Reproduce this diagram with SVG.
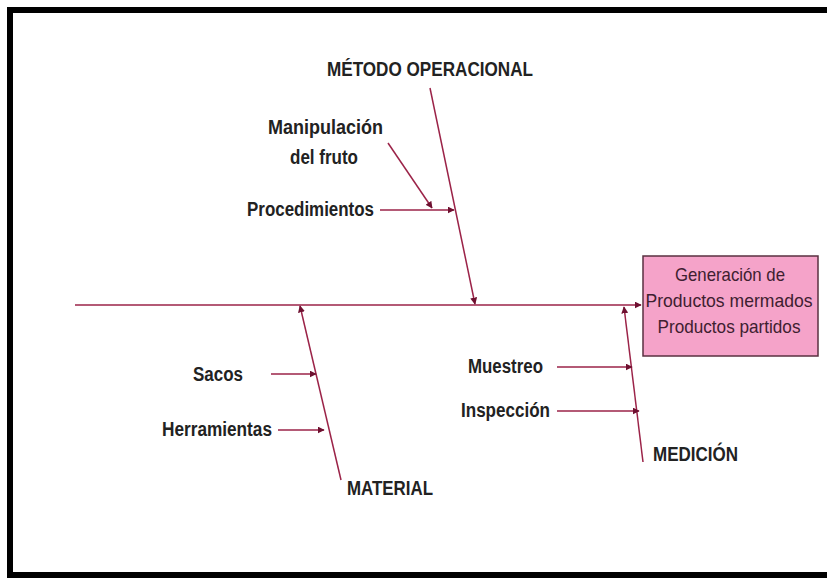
<svg xmlns="http://www.w3.org/2000/svg" width="827" height="579" viewBox="0 0 827 579">
<defs>
<marker id="ah" viewBox="0 0 10 10" refX="9" refY="5" markerWidth="7" markerHeight="7" markerUnits="userSpaceOnUse" orient="auto">
<path d="M0,0 L10,5 L0,10 z" fill="#6e1030"/>
</marker>
<style>
.ln{stroke:#9b2348;stroke-width:1.5;fill:none}
.lb{font-family:"Liberation Sans Narrow","Liberation Sans",Arial,sans-serif;font-weight:bold;font-size:19.5px;fill:#222}
.bt{font-family:"Liberation Sans Narrow","Liberation Sans",Arial,sans-serif;font-size:18.5px;fill:#3e2030;text-anchor:middle}
</style>
</defs>
<rect x="0" y="0" width="827" height="579" fill="#fff"/>
<rect x="10" y="10" width="830" height="565" fill="none" stroke="#000" stroke-width="6"/>
<g id="connectors">
<line class="ln" x1="75" y1="305" x2="641" y2="305" marker-end="url(#ah)"/>
<line class="ln" x1="430" y1="88" x2="475" y2="304" marker-end="url(#ah)"/>
<line class="ln" x1="388" y1="143" x2="432" y2="208" marker-end="url(#ah)"/>
<line class="ln" x1="380" y1="210" x2="454" y2="210" marker-end="url(#ah)"/>
<line class="ln" x1="341" y1="480" x2="300" y2="306" marker-end="url(#ah)"/>
<line class="ln" x1="271" y1="374" x2="316" y2="374" marker-end="url(#ah)"/>
<line class="ln" x1="278" y1="430" x2="324" y2="430" marker-end="url(#ah)"/>
<line class="ln" x1="643" y1="462" x2="624" y2="307" marker-end="url(#ah)"/>
<line class="ln" x1="557" y1="367" x2="632" y2="367" marker-end="url(#ah)"/>
<line class="ln" x1="557" y1="411" x2="639" y2="411" marker-end="url(#ah)"/>
</g>
<g id="effect">
<rect x="643" y="256" width="175" height="100" fill="#f5a3c9" stroke="#5a3040" stroke-width="1.5"/>
<text class="bt" x="730" y="281" textLength="110" lengthAdjust="spacingAndGlyphs">Generación de</text>
<text class="bt" x="729" y="307" textLength="167" lengthAdjust="spacingAndGlyphs">Productos mermados</text>
<text class="bt" x="729" y="333" textLength="143" lengthAdjust="spacingAndGlyphs">Productos partidos</text>
</g>
<g id="metodo">
<text class="lb" x="327" y="76" textLength="206" lengthAdjust="spacingAndGlyphs">MÉTODO OPERACIONAL</text>
</g>
<g id="manipulacion">
<text class="lb" x="268" y="134" textLength="115" lengthAdjust="spacingAndGlyphs">Manipulación</text>
<text class="lb" x="290" y="164" textLength="68" lengthAdjust="spacingAndGlyphs">del fruto</text>
</g>
<g id="procedimientos">
<text class="lb" x="247" y="216" textLength="127" lengthAdjust="spacingAndGlyphs">Procedimientos</text>
</g>
<g id="material">
<text class="lb" x="347" y="495" textLength="86" lengthAdjust="spacingAndGlyphs">MATERIAL</text>
</g>
<g id="sacos">
<text class="lb" x="193" y="381" textLength="50" lengthAdjust="spacingAndGlyphs">Sacos</text>
</g>
<g id="herramientas">
<text class="lb" x="162" y="436" textLength="110" lengthAdjust="spacingAndGlyphs">Herramientas</text>
</g>
<g id="medicion">
<text class="lb" x="653" y="461" textLength="85" lengthAdjust="spacingAndGlyphs">MEDICIÓN</text>
</g>
<g id="muestreo">
<text class="lb" x="468" y="373" textLength="75" lengthAdjust="spacingAndGlyphs">Muestreo</text>
</g>
<g id="inspeccion">
<text class="lb" x="461" y="417" textLength="89" lengthAdjust="spacingAndGlyphs">Inspección</text>
</g>
</svg>
